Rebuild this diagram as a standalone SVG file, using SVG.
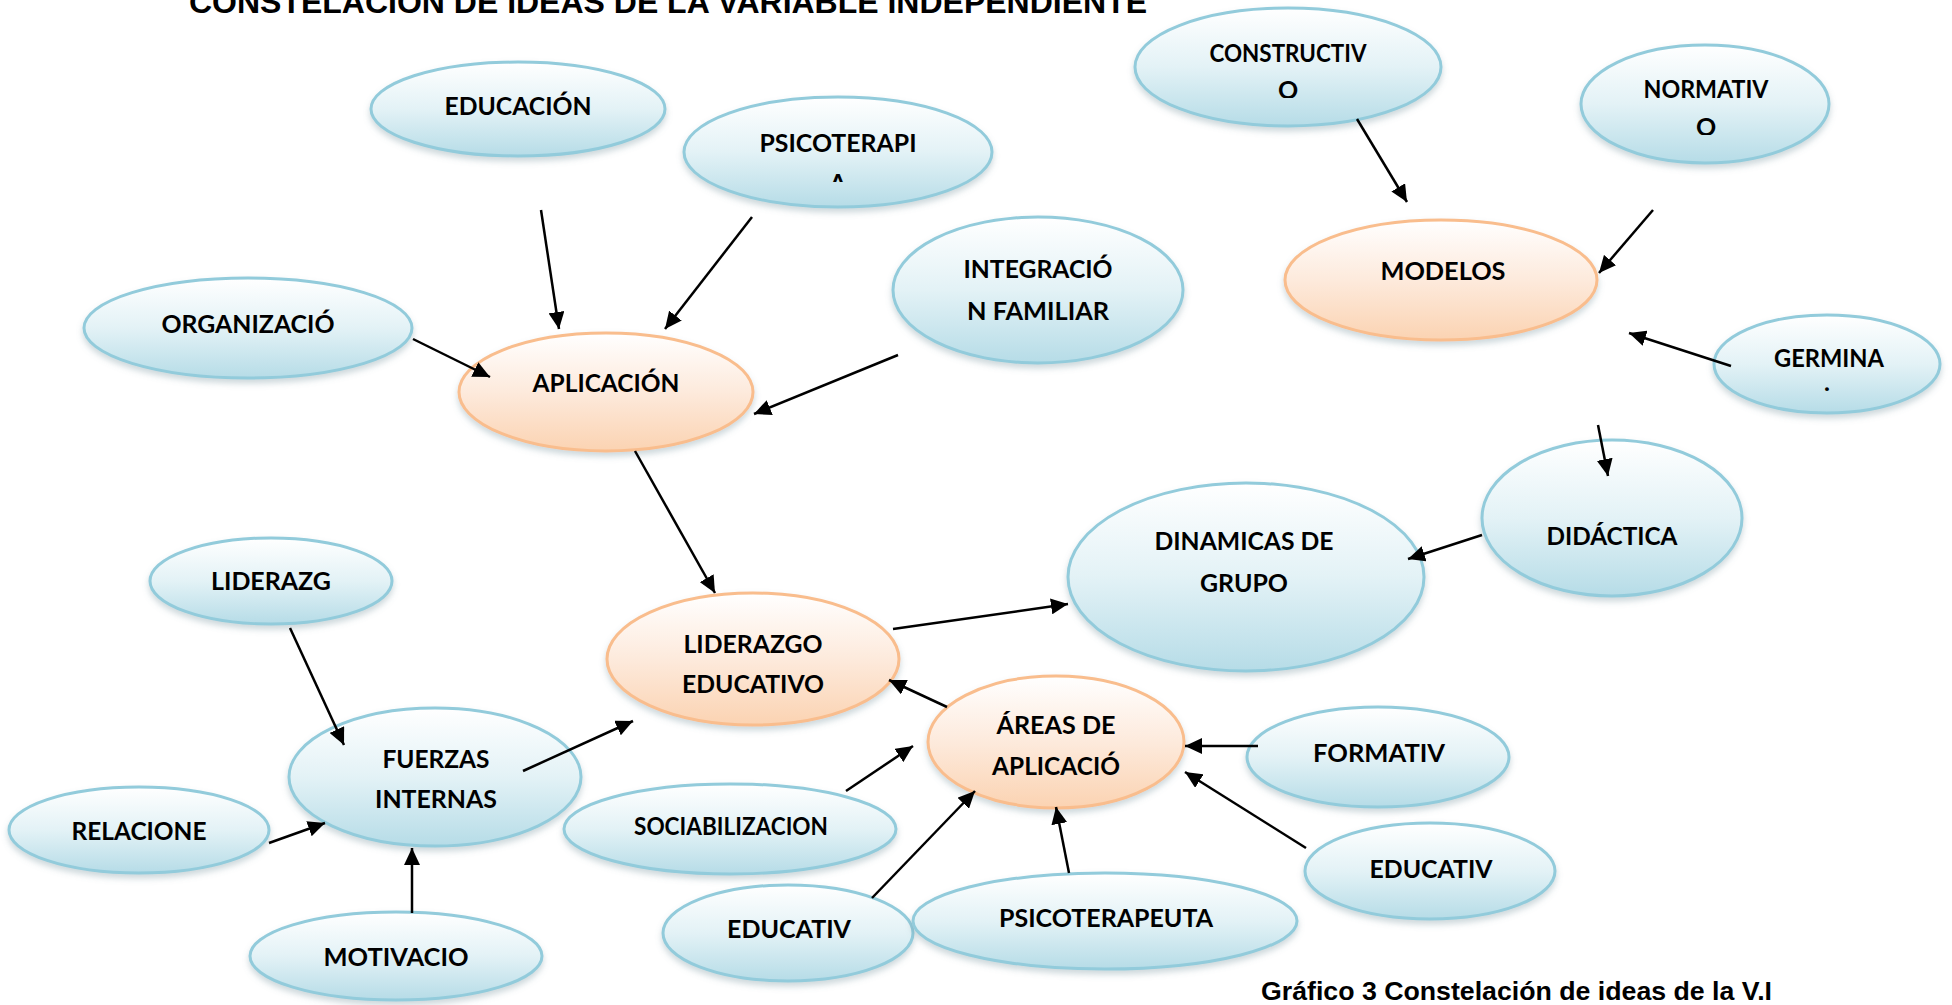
<svg xmlns="http://www.w3.org/2000/svg" width="1952" height="1005" viewBox="0 0 1952 1005">
<defs>
<linearGradient id="gBlue" x1="0" y1="0" x2="0" y2="1">
<stop offset="0" stop-color="#ffffff"/>
<stop offset="0.5" stop-color="#e3f2f6"/>
<stop offset="1" stop-color="#b6dce7"/>
</linearGradient>
<linearGradient id="gOrange" x1="0" y1="0" x2="0" y2="1">
<stop offset="0" stop-color="#ffffff"/>
<stop offset="0.5" stop-color="#fdeadc"/>
<stop offset="1" stop-color="#fbd3b2"/>
</linearGradient>
<filter id="shadow" x="-20%" y="-20%" width="140%" height="150%">
<feDropShadow dx="0" dy="4" stdDeviation="3" flood-color="#6f8f99" flood-opacity="0.35"/>
</filter>
<marker id="arrow" markerUnits="userSpaceOnUse" markerWidth="18" markerHeight="16" refX="17" refY="8" orient="auto">
<path d="M0,0 L17,8 L0,16 z" fill="#000"/>
</marker>
<clipPath id="clipPsico"><rect x="700" y="100" width="280" height="82"/></clipPath>
<clipPath id="clipConst"><rect x="1150" y="10" width="280" height="88"/></clipPath>
<clipPath id="clipNorm"><rect x="1590" y="50" width="230" height="85"/></clipPath>
</defs>
<style>
.blue{fill:url(#gBlue);stroke:#92cbdb;stroke-width:3;filter:url(#shadow)}
.orange{fill:url(#gOrange);stroke:#f9bd8d;stroke-width:3;filter:url(#shadow)}
.lbl{font-family:Lato,"Liberation Sans",sans-serif;font-weight:bold;font-size:25px;fill:#000;text-anchor:middle}
.cap{font-family:"Liberation Sans",Arial,sans-serif;font-weight:bold;fill:#000}
.conn line{stroke:#000;stroke-width:2.5;marker-end:url(#arrow)}
</style>
<rect width="1952" height="1005" fill="#ffffff"/>
<text class="cap" x="189" y="13" font-size="31.5" textLength="958" lengthAdjust="spacingAndGlyphs">CONSTELACION DE IDEAS DE LA VARIABLE INDEPENDIENTE</text>

<g id="n-educacion"><ellipse class="blue" cx="518" cy="109" rx="147" ry="47"/><text class="lbl" x="518" y="115" textLength="147" lengthAdjust="spacingAndGlyphs">EDUCACIÓN</text></g>
<g id="n-psicoterapia"><ellipse class="blue" cx="838" cy="152" rx="154" ry="55"/><text class="lbl" x="838" y="152" textLength="157" lengthAdjust="spacingAndGlyphs">PSICOTERAPI</text><text class="lbl" x="838" y="192" clip-path="url(#clipPsico)">A</text></g>
<g id="n-integracion"><ellipse class="blue" cx="1038" cy="290" rx="145" ry="73"/><text class="lbl" x="1038" y="278" textLength="149" lengthAdjust="spacingAndGlyphs">INTEGRACIÓ</text><text class="lbl" x="1038" y="320" textLength="142" lengthAdjust="spacingAndGlyphs">N FAMILIAR</text></g>
<g id="n-organizacion"><ellipse class="blue" cx="248" cy="328" rx="164" ry="50"/><text class="lbl" x="248" y="333" textLength="173" lengthAdjust="spacingAndGlyphs">ORGANIZACIÓ</text></g>
<g id="n-aplicacion"><ellipse class="orange" cx="606" cy="392" rx="147" ry="59"/><text class="lbl" x="606" y="392" textLength="147" lengthAdjust="spacingAndGlyphs">APLICACIÓN</text></g>
<g id="n-constructivo"><ellipse class="blue" cx="1288" cy="67" rx="153" ry="59"/><text class="lbl" x="1288" y="62" textLength="157" lengthAdjust="spacingAndGlyphs">CONSTRUCTIV</text><text class="lbl" x="1288" y="99" clip-path="url(#clipConst)">O</text></g>
<g id="n-normativo"><ellipse class="blue" cx="1705" cy="104" rx="124" ry="59"/><text class="lbl" x="1706" y="98" textLength="125" lengthAdjust="spacingAndGlyphs">NORMATIV</text><text class="lbl" x="1706" y="136" clip-path="url(#clipNorm)">O</text></g>
<g id="n-modelos"><ellipse class="orange" cx="1441" cy="280" rx="156" ry="60"/><text class="lbl" x="1443" y="280" textLength="125" lengthAdjust="spacingAndGlyphs">MODELOS</text></g>
<g id="n-germina"><ellipse class="blue" cx="1827" cy="364" rx="113" ry="49"/><text class="lbl" x="1829" y="367" textLength="110" lengthAdjust="spacingAndGlyphs">GERMINA</text><text class="lbl" x="1827" y="391" font-size="12">.</text></g>
<g id="n-didactica"><ellipse class="blue" cx="1612" cy="518" rx="130" ry="78"/><text class="lbl" x="1612" y="545" textLength="131" lengthAdjust="spacingAndGlyphs">DIDÁCTICA</text></g>
<g id="n-dinamicas"><ellipse class="blue" cx="1246" cy="577" rx="178" ry="94"/><text class="lbl" x="1244" y="550" textLength="179" lengthAdjust="spacingAndGlyphs">DINAMICAS DE</text><text class="lbl" x="1244" y="592" textLength="88" lengthAdjust="spacingAndGlyphs">GRUPO</text></g>
<g id="n-liderazgo-educativo"><ellipse class="orange" cx="753" cy="659" rx="146" ry="66"/><text class="lbl" x="753" y="653" textLength="139" lengthAdjust="spacingAndGlyphs">LIDERAZGO</text><text class="lbl" x="753" y="693" textLength="142" lengthAdjust="spacingAndGlyphs">EDUCATIVO</text></g>
<g id="n-areas"><ellipse class="orange" cx="1056" cy="742" rx="128" ry="66"/><text class="lbl" x="1056" y="734" textLength="119" lengthAdjust="spacingAndGlyphs">ÁREAS DE</text><text class="lbl" x="1056" y="775" textLength="128" lengthAdjust="spacingAndGlyphs">APLICACIÓ</text></g>
<g id="n-fuerzas"><ellipse class="blue" cx="435" cy="777" rx="146" ry="69"/><text class="lbl" x="436" y="768" textLength="107" lengthAdjust="spacingAndGlyphs">FUERZAS</text><text class="lbl" x="436" y="808" textLength="122" lengthAdjust="spacingAndGlyphs">INTERNAS</text></g>
<g id="n-sociabilizacion"><ellipse class="blue" cx="730" cy="829" rx="166" ry="45"/><text class="lbl" x="731" y="835" textLength="194" lengthAdjust="spacingAndGlyphs">SOCIABILIZACION</text></g>
<g id="n-educativ-b"><ellipse class="blue" cx="788" cy="933" rx="125" ry="48"/><text class="lbl" x="789" y="938" textLength="124" lengthAdjust="spacingAndGlyphs">EDUCATIV</text></g>
<g id="n-psicoterapeuta"><ellipse class="blue" cx="1105" cy="921" rx="192" ry="48"/><text class="lbl" x="1106" y="927" textLength="214" lengthAdjust="spacingAndGlyphs">PSICOTERAPEUTA</text></g>
<g id="n-formativ"><ellipse class="blue" cx="1378" cy="757" rx="131" ry="50"/><text class="lbl" x="1379" y="762" textLength="132" lengthAdjust="spacingAndGlyphs">FORMATIV</text></g>
<g id="n-educativ-r"><ellipse class="blue" cx="1430" cy="871" rx="125" ry="48"/><text class="lbl" x="1431" y="878" textLength="123" lengthAdjust="spacingAndGlyphs">EDUCATIV</text></g>
<g id="n-liderazg"><ellipse class="blue" cx="271" cy="581" rx="121" ry="43"/><text class="lbl" x="271" y="590" textLength="120" lengthAdjust="spacingAndGlyphs">LIDERAZG</text></g>
<g id="n-relacione"><ellipse class="blue" cx="139" cy="830" rx="130" ry="43"/><text class="lbl" x="139" y="840" textLength="135" lengthAdjust="spacingAndGlyphs">RELACIONE</text></g>
<g id="n-motivacio"><ellipse class="blue" cx="396" cy="956" rx="146" ry="44"/><text class="lbl" x="396" y="966" textLength="145" lengthAdjust="spacingAndGlyphs">MOTIVACIO</text></g>

<g id="connectors" class="conn">
<line x1="541" y1="210" x2="559" y2="329"/>
<line x1="752" y1="217" x2="665" y2="329"/>
<line x1="413" y1="339" x2="490" y2="377"/>
<line x1="898" y1="355" x2="754" y2="414"/>
<line x1="635" y1="451" x2="715" y2="593"/>
<line x1="893" y1="629" x2="1068" y2="604"/>
<line x1="947" y1="707" x2="889" y2="680"/>
<line x1="523" y1="771" x2="633" y2="721"/>
<line x1="846" y1="791" x2="913" y2="746"/>
<line x1="872" y1="898" x2="975" y2="791"/>
<line x1="1069" y1="873" x2="1056" y2="807"/>
<line x1="1258" y1="746" x2="1185" y2="746"/>
<line x1="1306" y1="848" x2="1185" y2="772"/>
<line x1="290" y1="628" x2="344" y2="745"/>
<line x1="269" y1="843" x2="325" y2="823"/>
<line x1="412" y1="913" x2="412" y2="848"/>
<line x1="1357" y1="119" x2="1407" y2="202"/>
<line x1="1653" y1="210" x2="1599" y2="273"/>
<line x1="1731" y1="366" x2="1629" y2="333"/>
<line x1="1598" y1="425" x2="1608" y2="476"/>
<line x1="1482" y1="535" x2="1408" y2="559"/>
</g>

<text class="cap" x="1261" y="1000" font-size="26" textLength="511" lengthAdjust="spacingAndGlyphs">Gráfico 3 Constelación de ideas de la V.I</text>
</svg>
